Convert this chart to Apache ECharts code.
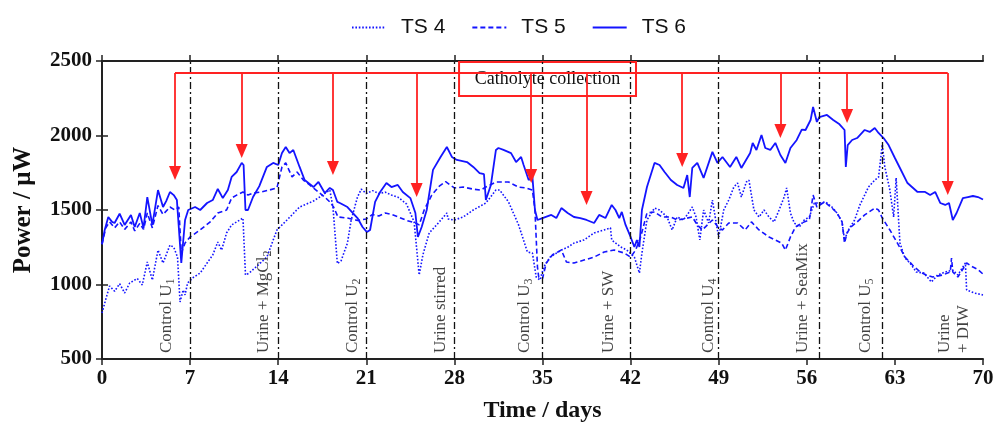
<!DOCTYPE html>
<html><head><meta charset="utf-8">
<script src="https://cdn.jsdelivr.net/npm/echarts/dist/echarts.min.js"></script>
<style>html,body{margin:0;padding:0;background:#fff}#c{width:993px;height:425px}</style>
</head><body><div id="c"></div>
<script>
const ts4 = [[0,809],[0.3,900],[0.6,990],[1.0,955],[1.4,1005],[1.8,943],[2.2,1010],[2.8,1040],[3.2,997],[3.6,1151],[4.0,1030],[4.45,1231],[4.85,1144],[5.4,1265],[5.7,1250],[6.0,1184],[6.2,883],[6.45,963],[6.6,930],[6.8,1010],[7.2,1044],[7.8,1077],[8.35,1144],[8.8,1198],[9.2,1285],[9.5,1231],[9.9,1346],[10.3,1400],[10.7,1420],[11.2,1446],[11.4,1064],[11.7,1077],[12.4,1130],[13.1,1184],[13.9,1366],[14.7,1433],[15.7,1520],[16.8,1560],[17.3,1587],[18.1,1634],[18.35,1520],[18.7,1140],[19.0,1160],[19.5,1278],[19.8,1433],[20.3,1587],[20.6,1640],[21.0,1610],[21.5,1630],[22.0,1610],[22.5,1620],[23.0,1600],[23.5,1587],[24.2,1540],[24.8,1420],[25.2,1064],[25.5,1200],[26.0,1346],[26.8,1420],[27.4,1480],[27.5,1440],[28.0,1433],[28.7,1453],[29.5,1500],[30.5,1547],[31.3,1634],[31.6,1634],[32.3,1554],[33.1,1400],[33.8,1218],[34.2,1211],[34.5,1050],[34.8,1030],[35.1,1117],[35.6,1184],[36.5,1231],[37.0,1250],[37.5,1278],[38.3,1299],[39.1,1346],[39.9,1366],[40.4,1380],[40.5,1299],[41.2,1252],[41.7,1231],[42.3,1184],[42.7,1077],[42.9,1211],[43.3,1433],[43.9,1513],[44.3,1500],[44.9,1453],[45.3,1366],[45.7,1453],[46.2,1433],[46.6,1480],[46.9,1520],[47.2,1453],[47.5,1299],[47.8,1500],[48.2,1413],[48.5,1567],[48.8,1413],[49.0,1319],[49.4,1500],[49.8,1567],[50.2,1654],[50.5,1681],[50.8,1587],[51.2,1688],[51.4,1701],[51.8,1500],[52.2,1453],[52.6,1500],[53.0,1453],[53.4,1420],[53.8,1500],[54.2,1587],[54.4,1648],[54.7,1480],[55.0,1413],[55.4,1386],[55.8,1433],[56.2,1453],[56.6,1547],[57.0,1547],[57.5,1554],[58.0,1520],[58.4,1480],[58.8,1420],[59.0,1299],[59.3,1366],[59.8,1433],[60.2,1530],[60.9,1654],[61.4,1701],[61.7,1720],[62.0,1940],[62.2,1789],[62.6,1634],[62.9,1453],[63.1,1715],[63.4,1278],[63.8,1178],[64.2,1144],[64.7,1084],[65.3,1077],[65.9,1017],[66.4,1064],[67.0,1084],[67.6,1097],[68.0,1064],[68.6,1144],[68.7,963],[69.3,943],[70,930]];

const ts5 = [[0,1270],[0.3,1380],[0.6,1420],[1.0,1380],[1.4,1420],[1.8,1370],[2.3,1420],[2.6,1360],[3.0,1410],[3.3,1370],[3.6,1480],[4.0,1380],[4.45,1530],[4.85,1470],[5.4,1520],[5.8,1500],[6.1,1520],[6.3,1211],[6.6,1278],[7.0,1319],[7.8,1366],[8.6,1420],[9.2,1480],[9.9,1500],[10.3,1580],[10.7,1600],[11.2,1621],[11.6,1600],[12.0,1614],[12.6,1620],[13.3,1634],[13.9,1648],[14.3,1789],[14.6,1816],[15.1,1722],[15.5,1755],[16.0,1701],[16.5,1668],[17.3,1614],[17.7,1587],[18.1,1554],[18.4,1520],[18.75,1453],[19.5,1446],[20.3,1430],[21.0,1440],[21.5,1470],[22.0,1460],[22.5,1480],[23.0,1470],[23.5,1455],[24.2,1430],[24.9,1413],[25.2,1400],[25.6,1500],[26.2,1600],[26.8,1660],[27.3,1690],[28.0,1648],[28.7,1654],[29.5,1640],[30.1,1634],[30.5,1654],[31.3,1688],[32.3,1688],[33.1,1654],[33.7,1648],[34.2,1634],[34.4,1500],[34.6,1117],[34.7,1050],[35.0,1040],[35.3,1144],[35.8,1200],[36.5,1231],[36.9,1151],[37.5,1144],[38.3,1164],[39.1,1184],[39.9,1218],[40.7,1231],[41.5,1211],[42.0,1184],[42.4,1231],[42.8,1319],[43.3,1480],[43.9,1487],[44.5,1453],[45.2,1453],[45.7,1433],[46.2,1440],[46.9,1453],[47.3,1400],[47.7,1366],[48.5,1433],[49.0,1380],[49.3,1366],[49.8,1413],[50.5,1413],[51.1,1366],[51.6,1420],[52.2,1366],[53.0,1319],[53.5,1299],[54.0,1278],[54.3,1231],[54.7,1319],[55.1,1386],[55.6,1413],[56.2,1433],[56.5,1600],[56.8,1520],[57.4,1554],[58.0,1513],[58.4,1480],[58.8,1420],[59.0,1278],[59.2,1346],[59.5,1386],[60.0,1420],[60.6,1467],[61.4,1513],[61.7,1500],[62.0,1446],[62.6,1366],[63.2,1278],[63.8,1184],[64.4,1131],[65.0,1084],[65.5,1064],[66.0,1050],[66.8,1064],[67.4,1084],[67.5,1178],[67.6,1084],[68.0,1050],[68.7,1144],[69.2,1117],[69.6,1100],[70,1070]];

const ts6 = [[0,1270],[0.2,1360],[0.5,1453],[0.8,1420],[1.0,1413],[1.4,1475],[1.8,1400],[2.3,1467],[2.6,1386],[3.0,1480],[3.3,1380],[3.6,1587],[4.0,1400],[4.45,1634],[4.85,1520],[5.1,1560],[5.4,1621],[5.7,1600],[5.95,1567],[6.1,1554],[6.3,1144],[6.6,1433],[6.85,1500],[7.4,1520],[7.8,1500],[8.35,1547],[8.8,1567],[9.2,1641],[9.6,1580],[10.0,1634],[10.3,1722],[10.7,1755],[11.1,1816],[11.25,1802],[11.4,1500],[11.6,1500],[12.0,1587],[12.5,1660],[13.1,1789],[13.6,1816],[14.0,1802],[14.3,1882],[14.6,1923],[14.9,1882],[15.2,1903],[15.7,1789],[16.1,1701],[16.8,1654],[17.2,1688],[17.7,1614],[18.1,1648],[18.35,1634],[18.7,1554],[18.9,1547],[19.5,1520],[20.3,1446],[20.7,1386],[21.05,1352],[21.3,1366],[21.7,1554],[22.1,1621],[22.6,1681],[23.0,1654],[23.5,1668],[23.9,1621],[24.5,1580],[24.9,1480],[25.1,1319],[25.4,1386],[25.8,1500],[26.3,1769],[26.9,1856],[27.4,1923],[27.8,1856],[28.2,1836],[29.0,1822],[29.5,1789],[30.0,1748],[30.35,1740],[30.5,1567],[30.9,1668],[31.3,1903],[31.5,1916],[31.9,1903],[32.5,1882],[32.9,1822],[33.3,1856],[33.5,1802],[33.9,1701],[34.2,1722],[34.4,1500],[34.6,1433],[35.0,1446],[35.7,1467],[36.1,1446],[36.5,1513],[37.0,1480],[37.5,1453],[38.0,1446],[38.5,1433],[39.1,1413],[39.5,1467],[40.0,1446],[40.5,1534],[40.8,1500],[41.1,1446],[41.3,1487],[41.6,1400],[42.0,1319],[42.3,1252],[42.5,1298],[42.7,1252],[42.9,1500],[43.3,1654],[43.9,1816],[44.3,1802],[44.7,1755],[45.2,1701],[45.7,1668],[46.2,1648],[46.5,1735],[46.7,1587],[46.9,1782],[47.3,1816],[47.8,1715],[48.5,1890],[48.9,1816],[49.3,1856],[49.9,1789],[50.4,1856],[50.8,1782],[51.5,1882],[51.7,1950],[52.0,1903],[52.4,2003],[52.7,1916],[53.1,1903],[53.5,1950],[53.9,1869],[54.3,1816],[54.7,1916],[55.2,1970],[55.6,2040],[55.9,2037],[56.3,2104],[56.5,2191],[56.8,2091],[57.0,2124],[57.6,2138],[58.1,2104],[58.6,2075],[59.0,2037],[59.1,1789],[59.25,1936],[59.6,1970],[60.0,1983],[60.6,2037],[61.0,2024],[61.4,2050],[61.7,2017],[62.1,1983],[62.5,1936],[63.0,1849],[63.4,1782],[64.0,1681],[64.8,1621],[65.4,1621],[65.8,1600],[66.2,1621],[66.6,1547],[67.0,1534],[67.3,1547],[67.6,1433],[67.9,1480],[68.4,1580],[68.8,1587],[69.2,1594],[69.6,1587],[70,1570]];

const phaseDays = [7, 14, 21, 28, 35, 42, 49, 57, 62];
const phaseLabels = ['Control U\u2081', 'Urine + MgCl\u2082', 'Control U\u2082', 'Urine stirred', 'Control U\u2083', 'Urine + SW', 'Control U\u2084', 'Urine + SeaMix', 'Control U\u2085', 'Urine\n+ DIW'];
const phaseLabelDays = [5.16, 12.87, 19.94, 26.93, 33.61, 40.28, 48.23, 55.70, 60.70, 67.7];
const phaseLabelBase = 540;
const arrowDays = [5.8, 11.1, 18.35, 25.0, 34.1, 38.5, 46.1, 53.9, 59.2, 67.2];
const arrowTips = [1701, 1849, 1735, 1587, 1681, 1534, 1789, 1983, 2084, 1600];
const bracketLevel = 2419;
const boxCorners = [[28.37, 2265], [42.43, 2493]];
const boxText = 'Catholyte collection';

const serif = "'Liberation Serif','Times New Roman',serif";
const blue = '#1414ff';
const red = '#ff2222';
const headHalf = 7 * 500 / 74.5;

const arrowLines = [];
arrowLines.push([{coord: [arrowDays[0], bracketLevel], symbol: 'none'}, {coord: [arrowDays[arrowDays.length - 1], bracketLevel], symbol: 'none'}]);
arrowDays.forEach((d, i) => {
  arrowLines.push([{coord: [d, bracketLevel], symbol: 'none'}, {coord: [d, arrowTips[i] + headHalf], symbol: 'triangle', symbolSize: [12, 14]}]);
});

function subFormat(p) {
  return p.name.replace(/[\u2080-\u2089]/g, c => '{s|' + (c.charCodeAt(0) - 0x2080) + '}');
}

const chart = echarts.init(document.getElementById('c'), null, {renderer: 'canvas'});
chart.setOption({
  animation: false,
  backgroundColor: '#fff',
  legend: {
    data: ['TS 4', 'TS 5', 'TS 6'],
    left: 346, top: 12,
    itemWidth: 34, itemHeight: 20, itemGap: 26,
    itemStyle: {opacity: 0},
    textStyle: {fontFamily: "'Liberation Sans', Arial, sans-serif", fontSize: 21, color: '#111', padding: [0, 0, 0, 10]}
  },
  grid: {left: 102, right: 10, top: 61, bottom: 66, containLabel: false, outerBoundsMode: 'none'},
  xAxis: [{
    type: 'value', min: 0, max: 70, interval: 7,
    name: 'Time / days', nameLocation: 'middle', nameGap: 40,
    nameTextStyle: {fontFamily: serif, fontWeight: 'bold', fontSize: 24, color: '#111'},
    axisLine: {lineStyle: {color: '#222', width: 2}},
    axisTick: {length: 6, lineStyle: {color: '#222', width: 1.5}},
    axisLabel: {fontFamily: serif, fontWeight: 'bold', fontSize: 21, color: '#111', margin: 9},
    splitLine: {show: false}
  }, {
    type: 'value', min: 0, max: 70, interval: 7, position: 'top',
    axisLine: {lineStyle: {color: '#222', width: 2}},
    axisTick: {length: 6, lineStyle: {color: '#222', width: 1.5}},
    axisLabel: {show: false}, splitLine: {show: false}
  }],
  yAxis: [{
    type: 'value', min: 500, max: 2500, interval: 500,
    name: 'Power / \u03bcW', nameLocation: 'middle', nameGap: 66, nameRotate: 90,
    nameTextStyle: {fontFamily: serif, fontWeight: 'bold', fontSize: 25, color: '#111'},
    axisLine: {show: true, lineStyle: {color: '#222', width: 2}},
    axisTick: {show: true, length: 6, lineStyle: {color: '#222', width: 1.5}},
    axisLabel: {fontFamily: serif, fontWeight: 'bold', fontSize: 21, color: '#111', margin: 10, formatter: v => String(v)},
    splitLine: {show: false}
  }, {
    type: 'value', min: 500, max: 2500, interval: 500, position: 'right',
    axisLine: {show: true, lineStyle: {color: '#222', width: 2}},
    axisTick: {show: true, length: 6, lineStyle: {color: '#222', width: 1.5}},
    axisLabel: {show: false}, splitLine: {show: false}
  }],
  series: [
    {
      name: 'TS 4', type: 'line', data: ts4, showSymbol: false, symbol: 'none', z: 3,
      lineStyle: {color: blue, width: 1.6, type: [1.6, 1.8]}, itemStyle: {color: blue}
    },
    {
      name: 'TS 5', type: 'line', data: ts5, showSymbol: false, symbol: 'none', z: 3,
      lineStyle: {color: blue, width: 1.6, type: [5, 3]}, itemStyle: {color: blue}
    },
    {
      name: 'TS 6', type: 'line', data: ts6, showSymbol: false, symbol: 'none', z: 4,
      lineStyle: {color: blue, width: 1.8, type: 'solid'}, itemStyle: {color: blue}
    },
    {
      name: 'phases', type: 'line', data: [], z: 2, silent: true,
      markLine: {
        silent: true, symbol: 'none', animation: false,
        label: {show: false},
        lineStyle: {color: '#111', width: 1.3, type: [7, 3, 2, 3]},
        data: phaseDays.map(d => ({xAxis: d}))
      }
    },
    {
      name: 'phaseText', type: 'scatter', symbolSize: 0, z: 6, silent: true,
      data: phaseLabelDays.map((d, i) => ({value: [d, phaseLabelBase], name: phaseLabels[i]})),
      label: {
        show: true, position: 'inside', rotate: 90, align: 'left', verticalAlign: 'middle',
        formatter: subFormat, fontFamily: serif, fontSize: 17, color: '#111', lineHeight: 19,
        rich: {s: {fontFamily: serif, fontSize: 12, lineHeight: 8, verticalAlign: 'bottom', color: '#111'}}
      }
    },
    {
      name: 'arrows', type: 'line', data: [], z: 7, silent: true,
      markLine: {
        silent: true, animation: false, symbol: 'none',
        label: {show: false},
        lineStyle: {color: red, width: 1.8, type: 'solid'},
        itemStyle: {color: red},
        data: arrowLines
      }
    },
    {
      name: 'box', type: 'line', data: [], z: 9, silent: true,
      markArea: {
        silent: true,
        itemStyle: {color: '#fff', borderColor: red, borderWidth: 2, opacity: 1},
        label: {show: true, position: 'inside', formatter: boxText, fontFamily: serif, fontSize: 18, color: '#111'},
        data: [[{coord: boxCorners[0]}, {coord: boxCorners[1]}]]
      }
    }
  ]
});
</script>
</body></html>
